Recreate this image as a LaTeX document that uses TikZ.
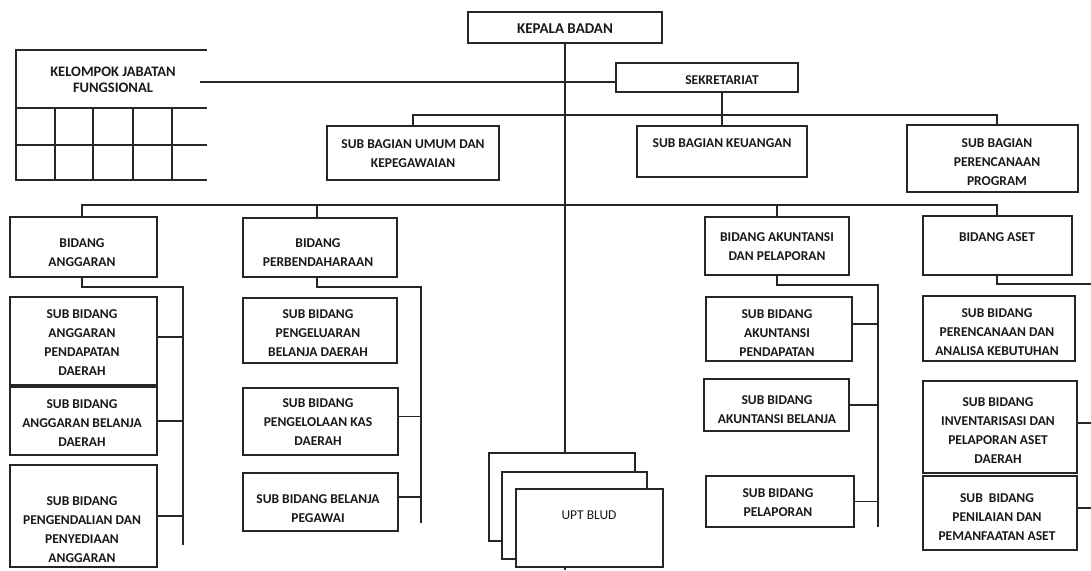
\documentclass[tikz,border=0pt]{standalone}
\usepackage{fontspec}
\setmainfont{Carlito}
\begin{document}
\begin{tikzpicture}[x=1pt,y=-1pt,
  ln/.style={line width=1.3pt,draw=black!85},
  bx/.style={ln,fill=white,rectangle,inner sep=0pt},
  tx/.style={align=center,font=\bfseries\fontsize{13.5}{19}\selectfont,inner sep=0pt,text=black!90},
]
\useasboundingbox (0,0) rectangle (1091,570);
\newcommand\boxat[5]{\node[bx,minimum width={#4-#2},minimum height={#5-#3}] (#1) at ({(#2+#4)/2},{(#3+#5)/2}) {};}
% central line
\coordinate (cbot) at (565,570);
% top
\boxat{kep}{468}{12}{662}{43}
\draw[ln] (kep.south) -- (cbot);
\node[tx,font=\bfseries\fontsize{15}{19}\selectfont] (tkep) at (565,28.5) {KEPALA BADAN};
% kelompok jabatan fungsional
\coordinate (kjfA) at (16,50);
\coordinate (kjfR) at (200,82);
\draw[ln] (207,50) -- (kjfA) -- (16,180) -- (207,180);
\draw[ln] (16,108) -- (207,108);
\draw[ln] (16,145) -- (207,145);
\foreach \xx in {55,93,133,172} \draw[ln] (\xx,108) -- (\xx,180);
\node[tx,font=\bfseries\fontsize{14.5}{15.5}\selectfont] (tkjf) at (113,80) {KELOMPOK JABATAN\\FUNGSIONAL};
% sekretariat
\boxat{sek}{616}{63}{798}{92}
\node[tx] (tsek) at (722,80) {SEKRETARIAT};
\draw[ln] (kjfR) -- (kjfR -| sek.west);
\boxat{umum}{327}{126}{499}{180}
\boxat{keu}{637}{126}{807}{177}
\boxat{per}{907}{125}{1078}{192}
\coordinate (b1) at (0,115);
\coordinate (perx) at (997,125);
\draw[ln] (sek.south -| keu.north) -- (keu.north);
\draw[ln] (umum.north) -- (umum.north |- b1) -- (perx |- b1) -- (perx);
\node[tx] (tumum) at (413,153.5) {SUB BAGIAN UMUM DAN\\KEPEGAWAIAN};
\node[tx] (tkeu) at (722,143) {SUB BAGIAN KEUANGAN};
\node[tx] (tper) at (997,162) {SUB BAGIAN\\PERENCANAAN\\PROGRAM};
% bidang
\boxat{ang}{10}{217}{157}{277}
\boxat{prb}{243}{218}{397}{277}
\boxat{aku}{705}{217}{849}{275}
\boxat{ast}{923}{216}{1072}{275}
\coordinate (b2) at (0,205);
\coordinate (angx) at (82,217);
\coordinate (prbx) at (317,218);
\coordinate (akux) at (777,217);
\coordinate (astx) at (997,216);
\draw[ln] (angx) -- (angx |- b2) -- (astx |- b2) -- (astx);
\draw[ln] (prbx |- b2) -- (prbx);
\draw[ln] (akux |- b2) -- (akux);
\node[tx] (tang) at (82,253) {BIDANG\\ANGGARAN};
\node[tx] (tprb) at (318,253) {BIDANG\\PERBENDAHARAAN};
\node[tx] (taku) at (777,247) {BIDANG AKUNTANSI\\DAN PELAPORAN};
\node[tx] (tast) at (997,237) {BIDANG ASET};
% anggaran subs
\coordinate (angR) at (183,287);
\coordinate (angE) at (183,545);
\draw[ln] (ang.south -| angx) -- (angx |- angR) -- (angR) -- (angE);
\boxat{sa1}{10}{297}{157}{385}
\boxat{sa2}{10}{387}{157}{455}
\boxat{sa3}{10}{465}{157}{567}
\draw[ln] ([yshift=4pt]sa1.east) -- ([yshift=4pt]sa1.east -| angR);
\draw[ln] (sa2.east) -- (sa2.east -| angR);
\draw[ln] (sa3.east) -- (sa3.east -| angR);
\node[tx] (tsa1) at (82,343) {SUB BIDANG\\ANGGARAN\\PENDAPATAN\\DAERAH};
\node[tx] (tsa2) at (82,423) {SUB BIDANG\\ANGGARAN BELANJA\\DAERAH};
\node[tx] (tsa3) at (82,529.5) {SUB BIDANG\\PENGENDALIAN DAN\\PENYEDIAAN\\ANGGARAN};
% perbendaharaan subs
\coordinate (prbR) at (421,287);
\coordinate (prbE) at (421,523);
\draw[ln] (prb.south -| prbx) -- (prbx |- prbR) -- (prbR) -- (prbE);
\boxat{sp1}{243}{298}{397}{363}
\boxat{sp2}{243}{388}{398}{455}
\boxat{sp3}{243}{473}{398}{531}
\draw[ln] ([yshift=5pt]sp2.east) -- ([yshift=5pt]sp2.east -| prbR);
\draw[ln] ([yshift=5pt]sp3.east) -- ([yshift=5pt]sp3.east -| prbR);
\node[tx] (tsp1) at (318,333) {SUB BIDANG\\PENGELUARAN\\BELANJA DAERAH};
\node[tx] (tsp2) at (318,422) {SUB BIDANG\\PENGELOLAAN KAS\\DAERAH};
\node[tx] (tsp3) at (318,509) {SUB BIDANG BELANJA\\PEGAWAI};
% UPT BLUD
\boxat{u1}{489}{453}{635}{541}
\boxat{u2}{502}{472}{647}{559}
\boxat{u3}{516}{489}{663}{567}
\node[tx,font=\fontsize{13.5}{14}\selectfont] (tupt) at (589,515) {UPT BLUD};
% akuntansi subs
\coordinate (akuR) at (878,285);
\coordinate (akuE) at (878,527);
\draw[ln] (aku.south -| akux) -- (akux |- akuR) -- (akuR) -- (akuE);
\boxat{sk1}{706}{297}{852}{361}
\boxat{sk2}{704}{379}{849}{431}
\boxat{sk3}{706}{476}{854}{527}
\draw[ln] ([yshift=5pt]sk1.east) -- ([yshift=5pt]sk1.east -| akuR);
\draw[ln] (sk2.east) -- (sk2.east -| akuR);
\draw[ln] (sk3.east) -- (sk3.east -| akuR);
\node[tx] (tsk1) at (777,333) {SUB BIDANG\\AKUNTANSI\\PENDAPATAN};
\node[tx] (tsk2) at (777,410) {SUB BIDANG\\AKUNTANSI BELANJA};
\node[tx] (tsk3) at (778,503) {SUB BIDANG\\PELAPORAN};
% aset subs
\coordinate (astR) at (1091,284);
\draw[ln] (ast.south -| astx) -- (astx |- astR) -- (astR);
\boxat{ss1}{923}{296}{1075}{361}
\boxat{ss2}{923}{381}{1077}{473}
\boxat{ss3}{923}{476}{1077}{550}
\coordinate (ssE2) at (1091,423);
\coordinate (ssE3) at (1091,508);
\draw[ln] (ss2.east |- ssE2) -- (ssE2);
\draw[ln] (ss3.east |- ssE3) -- (ssE3);
\node[tx] (tss1) at (997,332) {SUB BIDANG\\PERENCANAAN DAN\\ANALISA KEBUTUHAN};
\node[tx] (tss2) at (998,431) {SUB BIDANG\\INVENTARISASI DAN\\PELAPORAN ASET\\DAERAH};
\node[tx] (tss3) at (997,517.5) {SUB\ \ BIDANG\\PENILAIAN DAN\\PEMANFAATAN ASET};
\end{tikzpicture}
\end{document}
